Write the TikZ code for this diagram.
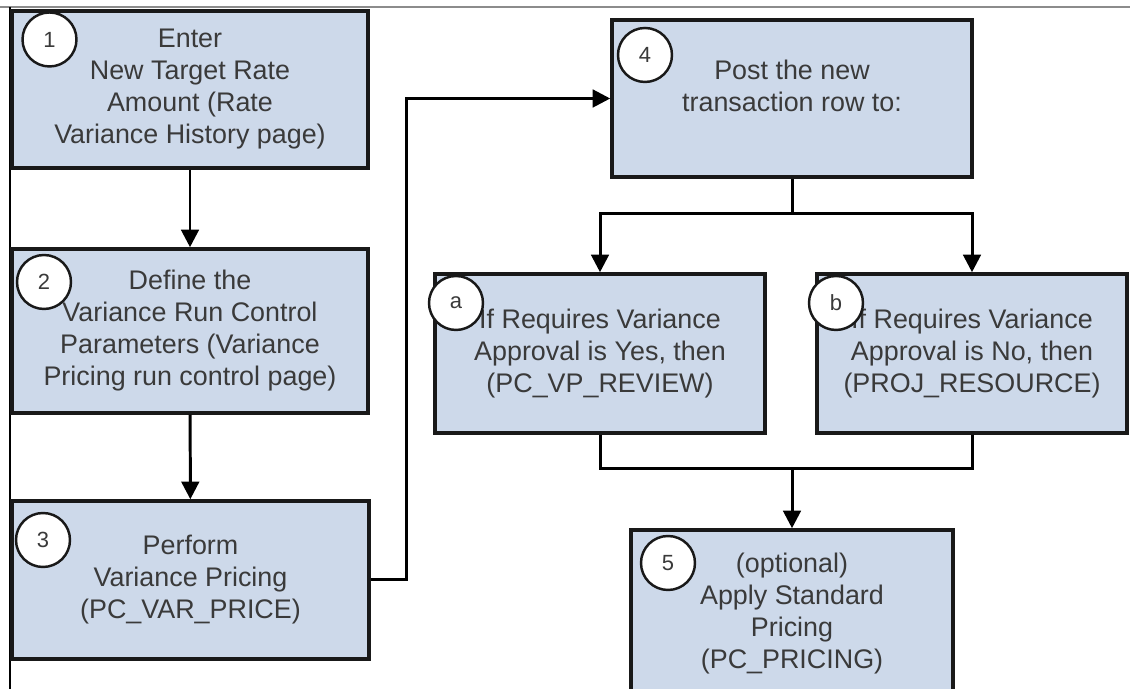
\documentclass[tikz,border=0pt]{standalone}
\usepackage{fontspec}
\setmainfont{Liberation Sans}
\usepackage{xcolor}
\usetikzlibrary{arrows.meta,calc,positioning}
\definecolor{boxblue}{HTML}{CDD9EA}
\definecolor{txtgray}{HTML}{3A3A3A}
\tikzset{
  stepbox/.style={rectangle, draw=black!90, line width=2pt, fill=boxblue, text=txtgray, align=center, inner sep=2pt, font=\fontsize{15.3}{18.2}\selectfont},
  steptxt/.style={align=center, text=txtgray, inner sep=0pt, font=\fontsize{15.3}{18.2}\selectfont},
  numc/.style={circle, draw=black!90, line width=1.4pt, fill=white, minimum size=1.08cm, inner sep=0pt, text=txtgray, font=\fontsize{12.5}{14}\selectfont},
  flow/.style={line width=1.7pt, -{Triangle[length=10pt,width=10pt]}},
  every picture/.style={line join=miter}
}

\begin{document}
\begin{tikzpicture}
  \useasboundingbox (0,0) rectangle (22.6,13.78);
  \clip (0,0) rectangle (22.6,13.78);
  \draw[line width=1.1pt, black!45] (0,13.64) -- (22.6,13.64);
  \draw[line width=1.1pt] (0.2,13.64) -- (0.2,0);

  \node[stepbox, minimum width=7.12cm, minimum height=3.14cm] (s1) at (3.80,11.99)
    {Enter\\New Target Rate\\Amount (Rate\\Variance History page)};
  \node[stepbox, minimum width=7.12cm, minimum height=3.28cm] (s2) at (3.80,7.16)
    {Define the\\Variance Run Control\\Parameters (Variance\\Pricing run control page)};
  \node[stepbox, minimum width=7.14cm, minimum height=3.16cm] (s3) at (3.81,2.18)
    {Perform\\Variance Pricing\\(PC\_VAR\_PRICE)};
  \node[stepbox, minimum width=7.20cm, minimum height=3.14cm] (s4) at (15.84,11.81) {};
  \node[stepbox, minimum width=6.60cm, minimum height=3.18cm] (sa) at (12.00,6.71)
    {If Requires Variance\\Approval is Yes, then\\(PC\_VP\_REVIEW)};
  \node[stepbox, minimum width=6.20cm, minimum height=3.18cm] (sb) at (19.44,6.71)
    {If Requires Variance\\Approval is No, then\\(PROJ\_RESOURCE)};
  \node[stepbox, minimum width=6.44cm, minimum height=3.22cm] (s5) at (15.84,1.57) {};

  \node[steptxt, anchor=north] (t4) at (15.84,12.58) {Post the new\\transaction row to:};
  \node[steptxt, anchor=north] (t5) at (15.84,2.72)
    {(optional)\\Apply Standard\\Pricing\\(PC\_PRICING)};

  \node[numc] (n1) at (0.99,12.99) {1};
  \node[numc] (n2) at (0.88,8.14) {2};
  \node[numc] (n3) at (0.86,2.98) {3};
  \node[numc] (n4) at (12.90,12.68) {4};
  \node[numc] (na) at (9.12,7.72) {a};
  \node[numc] (nb) at (16.72,7.72) {b};
  \node[numc] (n5) at (13.36,2.52) {5};

  \coordinate (split) at (15.84,9.50);
  \coordinate (join) at (15.84,4.40);

  \draw[flow] (s1) -- (s2);
  \draw[flow] (s2) -- (s3);
  \draw[flow] (s3.east) -- ++(0.72,0) |- (s4.west);
  \draw[line width=1.7pt] (s4) -- (split);
  \draw[flow] (split) -| (sa);
  \draw[flow] (split) -| (sb);
  \draw[line width=1.7pt] (sa) |- (join);
  \draw[line width=1.7pt] (sb) |- (join);
  \draw[flow] (join) -- (s5);
\end{tikzpicture}
\end{document}
